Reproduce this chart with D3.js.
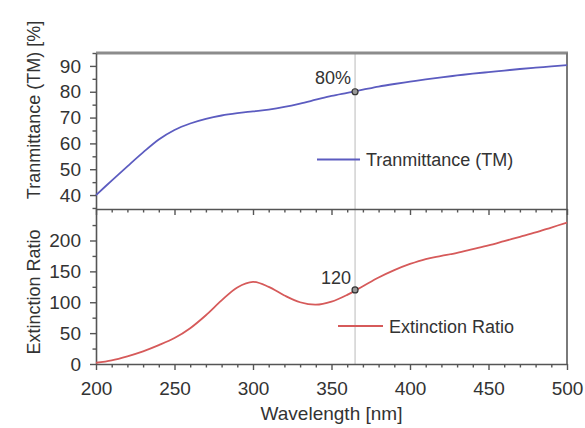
<!DOCTYPE html>
<html>
<head>
<meta charset="utf-8">
<script src="https://cdn.jsdelivr.net/npm/d3@7"></script>
<style>
  html, body { margin: 0; padding: 0; background: #fff; }
  svg { display: block; font-family: "Liberation Sans", Arial, sans-serif; }
</style>
</head>
<body>
<svg id="chart" width="585" height="428"></svg>
<script>
// ---- data ----
const wavelengths = [200,210,220,230,240,250,260,270,280,290,300,310,320,330,340,350,360,370,380,390,400,410,420,430,440,450,460,470,480,490,500];
const transmittance = [40,45.6,51.1,56.5,61.5,65.2,67.7,69.5,70.8,71.7,72.4,73.1,74.1,75.4,76.9,78.4,79.6,80.8,82,83,83.9,84.8,85.6,86.3,87,87.6,88.2,88.8,89.3,89.8,90.3];
const extinction = [2,6,12.5,20.5,30.5,42,58,79,103,124,133,125,111,100,96,101,112,126,140,152,162,170,175,180,186,192,199,206,213,221,229];
const xTicks = [200,250,300,350,400,450,500];
const topTicks = [40,50,60,70,80,90];
const botTicks = [0,50,100,150,200];
const markerWavelength = 365;
const markerTop = 80, markerTopLabel = "80%";
const markerBot = 120, markerBotLabel = "120";
const seriesNames = ["Tranmittance (TM)", "Extinction Ratio"];
const yTitles = ["Tranmittance (TM) [%]", "Extinction Ratio"];
const xTitle = "Wavelength [nm]";

// ---- layout ----
const svg = d3.select("#chart");
const L = 96, R = 567, T = 53, M = 209, B = 364;
const x = d3.scaleLinear().domain([200, 500]).range([L, R]);
const yT = d3.scaleLinear().domain([34.6, 95]).range([M, T]);
const yB = d3.scaleLinear().domain([0, 251]).range([B, M]);
const blue = "#5c5cc0", red = "#d65a5a", axisCol = "#555", txt = "#333";
const fs = 19;

// vertical marker line
svg.append("line").attr("x1", x(markerWavelength)).attr("x2", x(markerWavelength))
  .attr("y1", T).attr("y2", B).attr("stroke", "#bbb").attr("stroke-width", 1);

// borders
svg.append("line").attr("x1", L).attr("x2", R + 1).attr("y1", T).attr("y2", T)
  .attr("stroke", "#8c8c8c").attr("stroke-width", 3);
svg.append("line").attr("x1", R).attr("x2", R).attr("y1", T).attr("y2", B)
  .attr("stroke", "#7a7a7a").attr("stroke-width", 2);

function styleAxis(g) {
  g.selectAll("path.domain").attr("stroke", axisCol).attr("stroke-width", 1.6);
  g.selectAll(".tick line").attr("stroke", axisCol).attr("stroke-width", 1.4);
  g.selectAll("text").attr("fill", txt).style("font-size", fs + "px");
}

const minorX = d3.range(200, 501, 10).filter(v => v % 50 !== 0);
// bottom x axis
const gxB = svg.append("g").attr("transform", `translate(0,${B})`)
  .call(d3.axisBottom(x).tickValues(xTicks).tickSize(6).tickPadding(12).tickSizeOuter(0));
styleAxis(gxB);
const gxBm = svg.append("g").attr("transform", `translate(0,${B})`)
  .call(d3.axisBottom(x).tickValues(minorX).tickSize(3.5).tickFormat(""));
styleAxis(gxBm); gxBm.select("path.domain").remove();

// middle x axis
const gxM = svg.append("g").attr("transform", `translate(0,${M})`)
  .call(d3.axisBottom(x).tickValues(xTicks).tickSize(6).tickFormat("").tickSizeOuter(0));
styleAxis(gxM);
const gxMm = svg.append("g").attr("transform", `translate(0,${M})`)
  .call(d3.axisBottom(x).tickValues(minorX).tickSize(3.5).tickFormat(""));
styleAxis(gxMm); gxMm.select("path.domain").remove();

// left y axes
const gyT = svg.append("g").attr("transform", `translate(${L},0)`)
  .call(d3.axisLeft(yT).tickValues(topTicks).tickSize(6).tickPadding(9).tickSizeOuter(0));
styleAxis(gyT);
const gyTm = svg.append("g").attr("transform", `translate(${L},0)`)
  .call(d3.axisLeft(yT).tickValues([35,45,55,65,75,85,95]).tickSize(3.5).tickFormat(""));
styleAxis(gyTm); gyTm.select("path.domain").remove();

const gyB = svg.append("g").attr("transform", `translate(${L},0)`)
  .call(d3.axisLeft(yB).tickValues(botTicks).tickSize(6).tickPadding(9).tickSizeOuter(0));
styleAxis(gyB);
const gyBm = svg.append("g").attr("transform", `translate(${L},0)`)
  .call(d3.axisLeft(yB).tickValues([25,75,125,175,225]).tickSize(3.5).tickFormat(""));
styleAxis(gyBm); gyBm.select("path.domain").remove();

// lines
const lineT = d3.line().x((d, i) => x(wavelengths[i])).y(d => yT(d)).curve(d3.curveCatmullRom.alpha(0.5));
const lineB = d3.line().x((d, i) => x(wavelengths[i])).y(d => yB(d)).curve(d3.curveCatmullRom.alpha(0.5));
svg.append("path").datum(transmittance).attr("d", lineT)
  .attr("fill", "none").attr("stroke", blue).attr("stroke-width", 1.8);
svg.append("path").datum(extinction).attr("d", lineB)
  .attr("fill", "none").attr("stroke", red).attr("stroke-width", 1.8);

// markers
svg.append("circle").attr("cx", x(markerWavelength)).attr("cy", yT(markerTop)).attr("r", 3)
  .attr("fill", "#999").attr("stroke", "#333").attr("stroke-width", 1.2);
svg.append("circle").attr("cx", x(markerWavelength)).attr("cy", yB(markerBot)).attr("r", 3)
  .attr("fill", "#999").attr("stroke", "#333").attr("stroke-width", 1.2);
svg.append("text").attr("x", x(markerWavelength) - 4).attr("y", yT(markerTop) - 8)
  .attr("text-anchor", "end").attr("fill", txt).style("font-size", "18px").text(markerTopLabel);
svg.append("text").attr("x", x(markerWavelength) - 4).attr("y", yB(markerBot) - 6)
  .attr("text-anchor", "end").attr("fill", txt).style("font-size", "18px").text(markerBotLabel);

// legends
svg.append("line").attr("x1", 317).attr("x2", 360).attr("y1", 159.5).attr("y2", 159.5)
  .attr("stroke", blue).attr("stroke-width", 2.2);
svg.append("text").attr("x", 366).attr("y", 166).attr("fill", txt).style("font-size", "18px").text(seriesNames[0]);
svg.append("line").attr("x1", 338).attr("x2", 383).attr("y1", 326).attr("y2", 326)
  .attr("stroke", red).attr("stroke-width", 2.2);
svg.append("text").attr("x", 389).attr("y", 332.5).attr("fill", txt).style("font-size", "18px").text(seriesNames[1]);

// axis titles
svg.append("text").attr("transform", "translate(40,110) rotate(-90)").attr("text-anchor", "middle")
  .attr("fill", txt).style("font-size", "18px").text(yTitles[0]);
svg.append("text").attr("transform", "translate(40,292) rotate(-90)").attr("text-anchor", "middle")
  .attr("fill", txt).style("font-size", "18px").text(yTitles[1]);
svg.append("text").attr("x", (L + R) / 2).attr("y", 420).attr("text-anchor", "middle")
  .attr("fill", txt).style("font-size", "19px").text(xTitle);
</script>
</body>
</html>
